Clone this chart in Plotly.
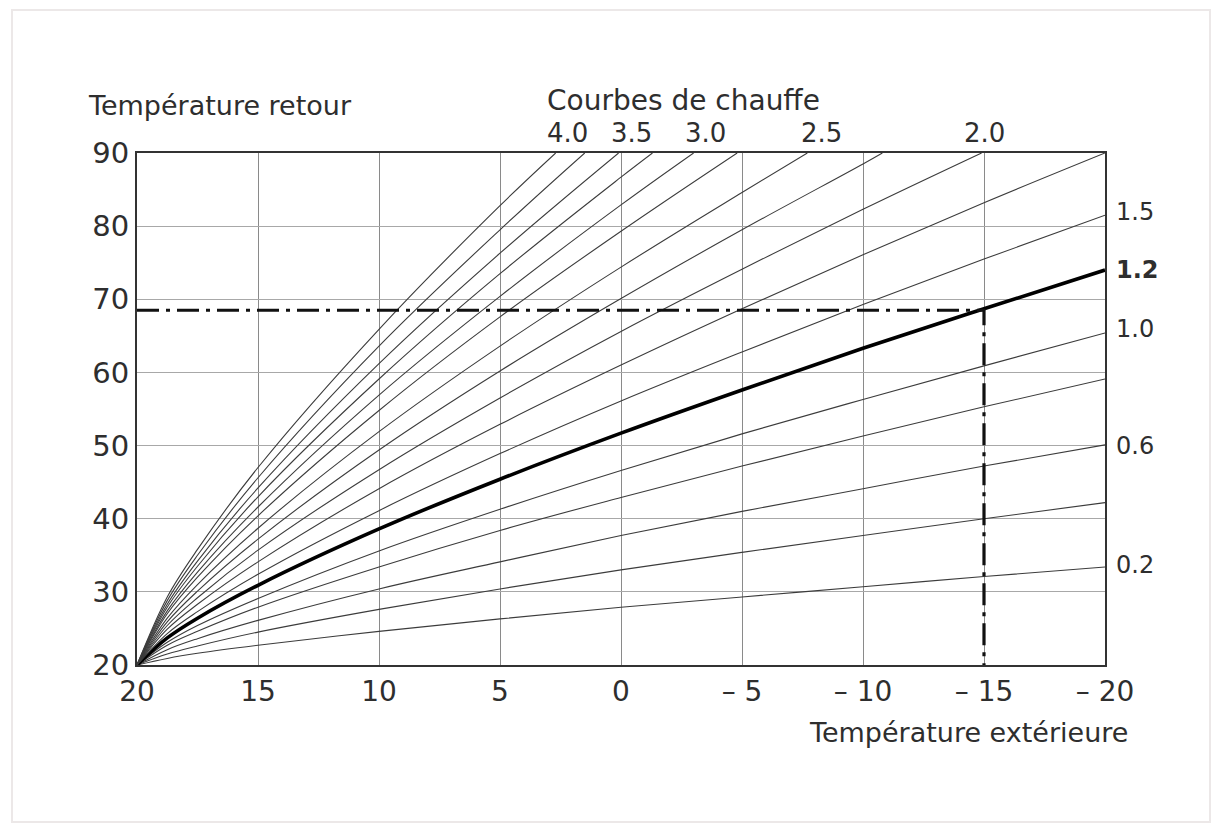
import plotly.graph_objects as go

# Outdoor temperature sample points (°C)
outdoor_temps = [20, 18.75, 17.5, 15, 10, 5, 0, -5, -10, -15, -20]

# Return temperature (None = above 90, off chart)
curve_0_2 = [20, 20.9, 21.6, 22.7, 24.6, 26.3, 27.9, 29.3, 30.7, 32.1, 33.4]
curve_0_4 = [20, 21.5, 22.6, 24.5, 27.6, 30.4, 33.0, 35.4, 37.7, 40.0, 42.2]
curve_0_6 = [20, 22.1, 23.6, 26.1, 30.4, 34.1, 37.7, 41.0, 44.1, 47.2, 50.1]
curve_0_8 = [20, 22.7, 24.6, 27.9, 33.4, 38.4, 42.9, 47.2, 51.3, 55.3, 59.1]
curve_1_0 = [20, 23.1, 25.4, 29.1, 35.6, 41.3, 46.6, 51.6, 56.3, 60.9, 65.4]
curve_1_2 = [20, 23.7, 26.4, 30.9, 38.6, 45.4, 51.7, 57.6, 63.3, 68.7, 74.0]
curve_1_5 = [20, 24.3, 27.3, 32.4, 41.1, 48.9, 56.1, 62.8, 69.3, 75.5, 81.5]
curve_1_75 = [20, 24.9, 28.3, 34.1, 44.1, 52.9, 61.0, 68.7, 76.1, 83.2, 90.0]
curve_2_0 = [20, 25.4, 29.2, 35.7, 46.7, 56.5, 65.6, 74.1, 82.3, None, None]
curve_2_25 = [20, 25.9, 30.1, 37.2, 49.4, 60.2, 70.1, 79.5, 88.5, None, None]
curve_2_5 = [20, 26.4, 31.0, 38.7, 51.9, 63.6, 74.4, 84.6, None, None, None]
curve_2_75 = [20, 27.0, 32.0, 40.4, 54.8, 67.6, 79.3, None, None, None, None]
curve_3_0 = [20, 27.4, 32.7, 41.6, 56.9, 70.4, 82.9, None, None, None, None]
curve_3_25 = [20, 27.9, 33.5, 43.0, 59.1, 73.5, 86.7, None, None, None, None]
curve_3_5 = [20, 28.3, 34.2, 44.2, 61.2, 76.3, None, None, None, None, None]
curve_3_75 = [20, 28.8, 35.0, 45.6, 63.6, 79.5, None, None, None, None, None]
curve_4_0 = [20, 29.3, 35.8, 47.0, 65.9, 82.8, None, None, None, None, None]

# Outdoor temperature where each steep curve leaves the top of the chart (90 °C)
exit_temps = {"2.0": -14.9, "2.25": -10.8, "2.5": -7.7, "2.75": -4.8,
              "3.0": -3.0, "3.25": -1.3, "3.5": 0.1, "3.75": 1.5, "4.0": 2.7}

curves = [("0.2", curve_0_2), ("0.4", curve_0_4), ("0.6", curve_0_6),
          ("0.8", curve_0_8), ("1.0", curve_1_0), ("1.2", curve_1_2),
          ("1.5", curve_1_5), ("1.75", curve_1_75), ("2.0", curve_2_0),
          ("2.25", curve_2_25), ("2.5", curve_2_5), ("2.75", curve_2_75),
          ("3.0", curve_3_0), ("3.25", curve_3_25), ("3.5", curve_3_5),
          ("3.75", curve_3_75), ("4.0", curve_4_0)]

# Example reading (dash-dot guide)
guide_x = [20, -15, -15]
guide_y = [68.5, 68.5, 20]

x_ticks = [20, 15, 10, 5, 0, -5, -10, -15, -20]
x_tick_text = ["20", "15", "10", "5", "0", "– 5", "– 10", "– 15", "– 20"]
y_ticks = [20, 30, 40, 50, 60, 70, 80, 90]

top_labels = ["4.0", "3.5", "3.0", "2.5", "2.0"]
top_label_x = [2.2, -0.45, -3.5, -8.3, -15.0]
right_labels = ["1.5", "1.2", "1.0", "0.6", "0.2"]
right_label_y = [82, 74, 66, 50, 33.7]

FONT = "'DejaVu Sans', Verdana, sans-serif"
INK = "#2e2e2e"

# plot area in page pixels (page has an 8px body margin)
L, R, T, B = 137, 1105, 153, 665
W, H = R - L, B - T

fig = go.Figure()

for name, ys in curves:
    xs, yv = [], []
    for x, y in zip(outdoor_temps, ys):
        if y is not None:
            xs.append(x)
            yv.append(y)
    if name in exit_temps:
        xs.append(exit_temps[name])
        yv.append(90)
    thick = name == "1.2"
    fig.add_trace(go.Scatter(
        x=xs, y=yv, mode="lines", line_shape="spline",
        line=dict(color="#000000" if thick else "#3c3c3c", width=3.6 if thick else 1.1),
        hoverinfo="skip", showlegend=False))

fig.add_trace(go.Scatter(
    x=guide_x, y=guide_y, mode="lines",
    line=dict(color="#111111", width=3.2, dash="22px,7px,4px,7px"),
    hoverinfo="skip", showlegend=False))

annotations = []
for t, xv in zip(top_labels, top_label_x):
    annotations.append(dict(x=xv, y=1, xref="x", yref="paper", text=t,
                            showarrow=False, xanchor="center", yanchor="middle", yshift=20,
                            font=dict(family=FONT, size=26, color=INK)))
for t, yv in zip(right_labels, right_label_y):
    annotations.append(dict(x=1, y=yv, xref="paper", yref="y",
                            text=("<b>%s</b>" % t) if t == "1.2" else t,
                            showarrow=False, xanchor="left", xshift=9,
                            font=dict(family=FONT, size=24, color=INK)))
annotations.append(dict(xref="paper", yref="paper", x=(683 - L) / W, y=1,
                        xanchor="center", yshift=53, yanchor="middle",
                        text="Courbes de chauffe", showarrow=False,
                        font=dict(family=FONT, size=28, color=INK)))
annotations.append(dict(xref="paper", yref="paper", x=(220 - L) / W, y=1,
                        xanchor="center", yshift=48, yanchor="middle",
                        text="Température retour", showarrow=False,
                        font=dict(family=FONT, size=27, color=INK)))
annotations.append(dict(xref="paper", yref="paper", x=(968 - L) / W, y=0,
                        xanchor="center", yshift=-67, yanchor="middle",
                        text="Température extérieure", showarrow=False,
                        font=dict(family=FONT, size=27, color=INK)))

fig.update_layout(
    width=1220, height=830,
    margin=dict(l=L - 8, r=1220 + 8 - R, t=T - 8, b=830 + 8 - B),
    paper_bgcolor="white", plot_bgcolor="white",
    annotations=annotations,
    shapes=[dict(type="rect", xref="paper", yref="paper",
                 x0=(12 - L) / W, x1=(1210 - L) / W,
                 y0=(B - 822) / H, y1=(B - 10) / H,
                 line=dict(color="#ece8e8", width=2), layer="below")],
)
fig.update_xaxes(range=[20, -20], tickvals=x_ticks, ticktext=x_tick_text,
                 showgrid=True, gridcolor="#8a8a8a", gridwidth=1,
                 showline=True, linecolor="#333333", linewidth=2, mirror=True,
                 ticks="", zeroline=False,
                 tickfont=dict(family=FONT, size=28, color=INK))
fig.update_yaxes(range=[20, 90], tickvals=y_ticks,
                 showgrid=True, gridcolor="#a8a8a8", gridwidth=1.2,
                 showline=True, linecolor="#333333", linewidth=2, mirror=True,
                 ticks="", zeroline=False,
                 tickfont=dict(family=FONT, size=29, color=INK))

fig.write_html("out.html")
